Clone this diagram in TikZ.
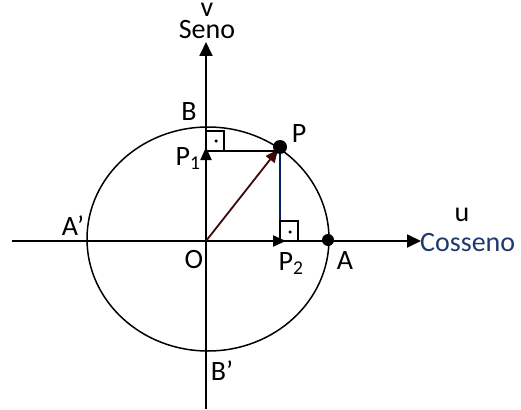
\documentclass[tikz,border=0pt]{standalone}
\usepackage{fontspec}
\setmainfont{Carlito}
\usetikzlibrary{arrows.meta}
\definecolor{navy}{RGB}{0,32,96}
\definecolor{textnavy}{RGB}{31,56,110}
\definecolor{darkred}{RGB}{60,8,8}
\tikzset{
  lbl/.style={inner sep=0pt, anchor=base, text height=0.62em, text depth=0pt, font=\fontsize{28}{30}\selectfont},
  axis/.style={line width=1.8pt, -{Triangle[length=14pt,width=13pt]}},
  vec/.style={line width=1.8pt, -{Triangle[length=13pt,width=11pt]}},
  thin/.style={line width=1.5pt},
  dotmark/.style={circle, fill=black, inner sep=0pt, minimum size=#1}
}
\begin{document}
\begin{tikzpicture}[x=1pt,y=-1pt]
\useasboundingbox (0,0) rectangle (521,409);
% coordinates
\coordinate (O) at (206,241);
\coordinate (vtop) at (206,42);
\coordinate (vbot) at (206,409);
\coordinate (hleft) at (12,241);
\coordinate (hright) at (421,241);
\coordinate (P) at (280,147);
\coordinate (P1) at (206,147);
\coordinate (P1foot) at (206,151);
\coordinate (Pfoot) at (280,151);
\coordinate (P2) at (286,241);
\coordinate (Pv) at (280,241);
% ellipse
\draw[thin] (208,239) ellipse [x radius=121pt, y radius=112pt];
% axes
\draw[axis] (vbot) -- (vtop);
\draw[axis] (hleft) -- (hright);
% projections
\draw[thin] (P1foot) -- (Pfoot);
\draw[thin, navy] (P) -- (Pv);
% right-angle squares
\draw[thin] (206,131) rectangle (224,151);
\node[dotmark=3.5pt] (d1) at (216,141) {};
\draw[thin] (280,221) rectangle (298,241);
\node[dotmark=3.5pt] (d2) at (290,232) {};
% vectors
\draw[vec] (O) -- (P1);
\draw[vec] (O) -- (P2);
\draw[vec, darkred, shorten >=3pt] (O) -- (P);
% points
\node[dotmark=14pt] (Pdot) at (P) {};
\node[dotmark=12pt] (Adot) at (328,240) {};
% labels
\node[lbl, text height=0.45em] (lv) at (207,17) {v};
\node[lbl] (lseno) at (207,39) {Seno};
\node[lbl] (lB) at (189,120) {B};
\node[lbl] (lP) at (299,142) {P};
\node[lbl] (lP1) at (188,165) {P\textsubscript{1}};
\node[lbl] (lA') at (73,235) {A’};
\node[lbl] (lO) at (194,268) {O};
\node[lbl] (lP2) at (291,270) {P\textsubscript{2}};
\node[lbl] (lA) at (345,269) {A};
\node[lbl] (lu) at (462,221) {u};
\node[lbl, text=textnavy, anchor=base west] (lcos) at (420,251) {Cosseno};
\node[lbl] (lB') at (222,380) {B’};
\end{tikzpicture}
\end{document}
